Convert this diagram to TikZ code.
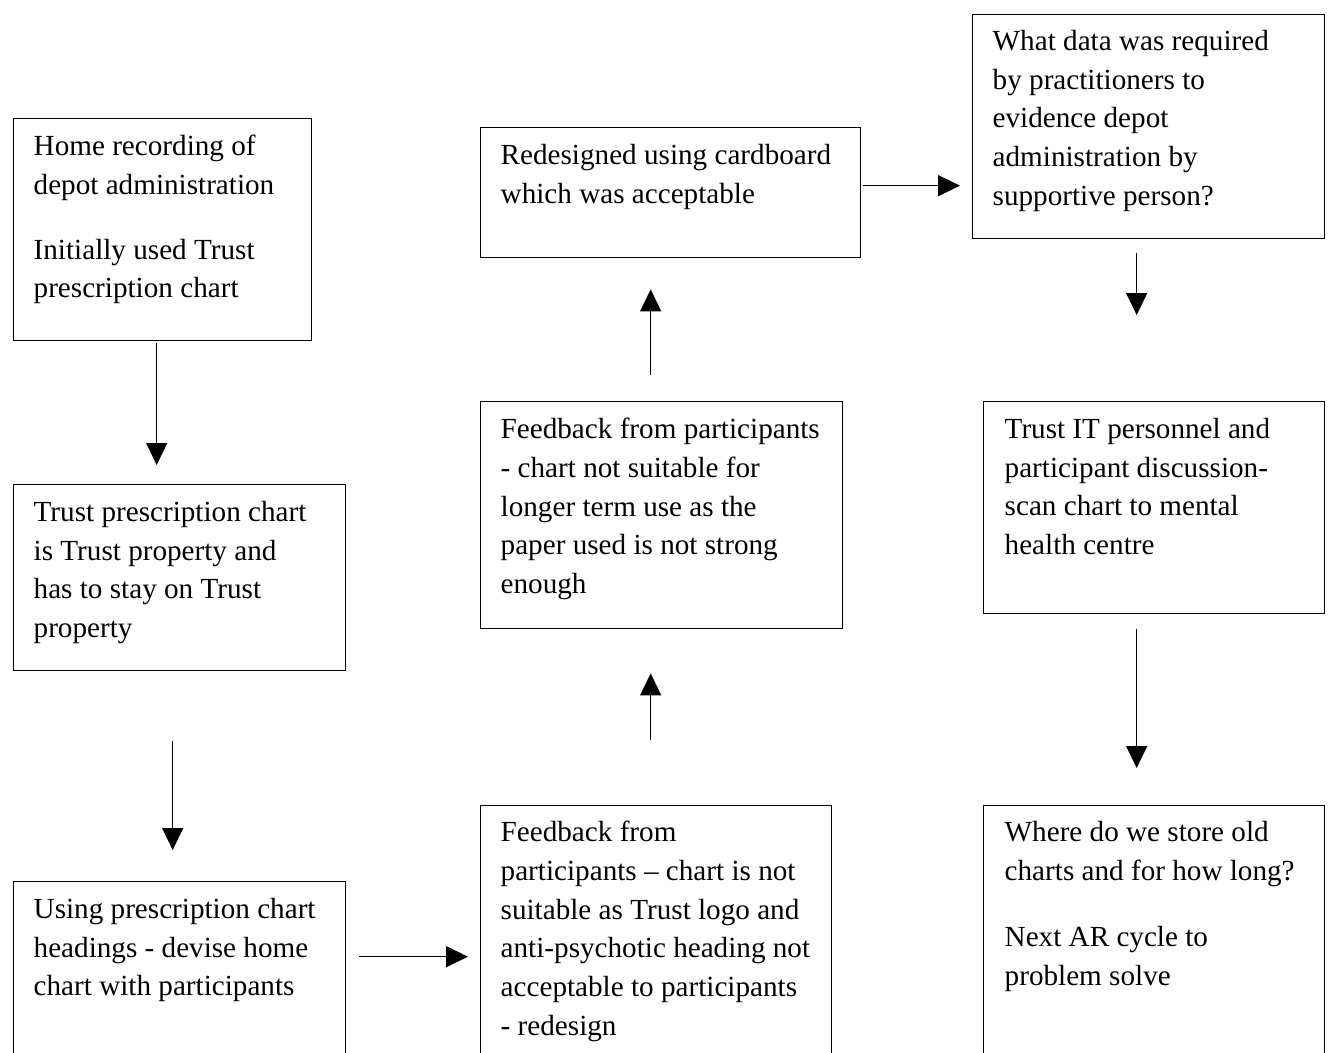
\documentclass[tikz,border=0pt]{standalone}
\usepackage{fontspec}
\setmainfont{Liberation Serif}
\usetikzlibrary{arrows.meta, positioning}

\begin{document}
\begin{tikzpicture}[x=0.02cm, y=-0.02cm, line width=0.8pt, >={Triangle[length=0.44cm, width=0.42cm]},
        box/.style={rectangle, draw, anchor=north west, inner sep=0pt},
        txt/.style={anchor=north west, inner sep=0pt, align=left, font=\fontsize{16.6}{22}\selectfont}]
        \useasboundingbox (0,0) rectangle (1331,1052);
        \clip (0,0) rectangle (1331,1052);

        % left column
        \node at (13,118) [box, minimum width=5.96cm, minimum height=4.44cm] (home) {};
        \node at ([xshift=0.4cm, yshift=-0.33cm]home.north west) [txt] (homeText) {Home recording of\\ depot administration\\[0.52cm] Initially used Trust\\ prescription chart};

        \node at (13,484) [box, minimum width=6.64cm, minimum height=3.72cm] (trust) {};
        \node at ([xshift=0.4cm, yshift=-0.33cm]trust.north west) [txt] (trustText) {Trust prescription chart\\ is Trust property and\\ has to stay on Trust\\ property};

        \node at (13,881) [box, minimum width=6.64cm, minimum height=4.0cm] (homechart) {};
        \node at ([xshift=0.4cm, yshift=-0.33cm]homechart.north west) [txt] (homechartText) {Using prescription chart\\ headings - devise home\\ chart with participants};

        % middle column
        \node at (480,805) [box, minimum width=7.02cm, minimum height=5.2cm] (fbLogo) {};
        \node at ([xshift=0.4cm, yshift=-0.31cm]fbLogo.north west) [txt] (fbLogoText) {Feedback from\\ participants – chart is not\\ suitable as Trust logo and\\ anti-psychotic heading not\\ acceptable to participants\\ - redesign};

        \node at (480,401) [box, minimum width=7.24cm, minimum height=4.54cm] (fbPaper) {};
        \node at ([xshift=0.4cm, yshift=-0.33cm]fbPaper.north west) [txt] (fbPaperText) {Feedback from participants\\ - chart not suitable for\\ longer term use as the\\ paper used is not strong\\ enough};

        \node at (480,127) [box, minimum width=7.6cm, minimum height=2.6cm] (redesign) {};
        \node at ([xshift=0.4cm, yshift=-0.33cm]redesign.north west) [txt] (redesignText) {Redesigned using cardboard\\ which was acceptable};

        % right column
        \node at (972,14) [box, minimum width=7.04cm, minimum height=4.48cm] (evidence) {};
        \node at ([xshift=0.4cm, yshift=-0.31cm]evidence.north west) [txt] (evidenceText) {What data was required\\ by practitioners to\\ evidence depot\\ administration by\\ supportive person?};

        \node at (983,401) [box, minimum width=6.82cm, minimum height=4.24cm] (itScan) {};
        \node at ([xshift=0.42cm, yshift=-0.33cm]itScan.north west) [txt] (itScanText) {Trust IT personnel and\\ participant discussion-\\ scan chart to mental\\ health centre};

        \node at (983,805) [box, minimum width=6.82cm, minimum height=5.2cm] (storage) {};
        \node at ([xshift=0.42cm, yshift=-0.31cm]storage.north west) [txt] (storageText) {Where do we store old\\ charts and for how long?\\[0.56cm] Next AR cycle to\\ problem solve};

        % arrows
        \draw[->, shorten <=0.04cm, shorten >=0.38cm] ([xshift=-0.12cm]home.south) -- ([xshift=-0.12cm]home.south |- trust.north);
        \draw[->, shorten <=1.4cm, shorten >=0.62cm] ([xshift=-0.14cm]trust.south) -- ([xshift=-0.14cm]trust.south |- homechart.north);
        \draw[->, shorten <=0.26cm, shorten >=0.24cm] ([yshift=0.5cm]homechart.east) -- ([yshift=0.5cm]homechart.east -| fbLogo.west);
        \draw[->, shorten <=1.3cm, shorten >=0.88cm] ([xshift=-0.11cm]fbLogo.north) -- ([xshift=-0.11cm]fbLogo.north |- fbPaper.south);
        \draw[->, shorten <=0.52cm, shorten >=0.62cm] ([xshift=-0.22cm]fbPaper.north) -- ([xshift=-0.22cm]fbPaper.north |- redesign.south);
        \draw[->, shorten <=0.04cm, shorten >=0.24cm] ([yshift=0.14cm]redesign.east) -- ([yshift=0.14cm]redesign.east -| evidence.west);
        \draw[->, shorten <=0.28cm, shorten >=1.72cm] ([xshift=-0.24cm]evidence.south) -- ([xshift=-0.24cm]evidence.south |- itScan.north);
        \draw[->, shorten <=0.3cm, shorten >=0.74cm] ([xshift=-0.35cm]itScan.south) -- ([xshift=-0.35cm]itScan.south |- storage.north);
\end{tikzpicture}
\end{document}
